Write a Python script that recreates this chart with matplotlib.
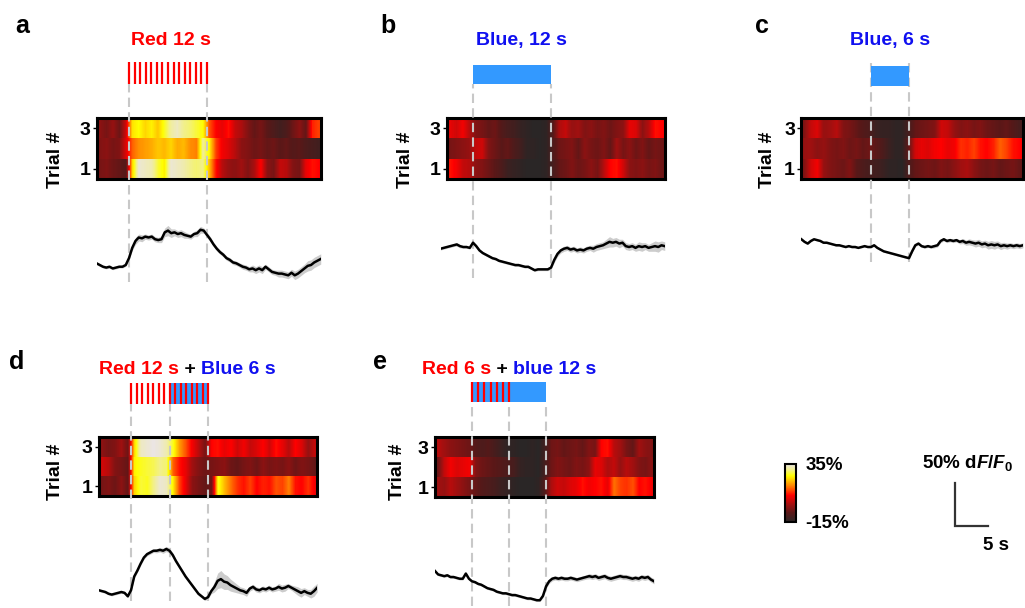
import numpy as np
import matplotlib
matplotlib.use('Agg')
import matplotlib.pyplot as plt
from matplotlib.colors import LinearSegmentedColormap, Normalize
from matplotlib.cm import ScalarMappable

plt.rcParams['font.family'] = ['Liberation Sans', 'DejaVu Sans']
plt.rcParams['font.weight'] = 'bold'
plt.rcParams['mathtext.fontset'] = 'custom'
plt.rcParams['mathtext.rm'] = 'Liberation Sans:bold'
plt.rcParams['mathtext.it'] = 'Liberation Sans:italic:bold'
plt.rcParams['mathtext.bf'] = 'Liberation Sans:bold'

# dF/F (%) per trial, ~1 s bins; rows are trial 1, 2, 3
heat_a = [
    [-4, -3, -5, -6, -8, 22, 34, 33, 32, 27, 24, 34, 33, 32, 30, 29, 30, 20, 9, 2, -1, -2, 0, -3, 1, 8, -2, -4, 3, 2, -3, -4, 6, 9, 8],
    [-3, -2, -4, -3, 5, 14, 17, 18, 19, 21, 20, 22, 19, 20, 17, 16, 31, 24, 12, 7, 5, 2, -2, -3, -5, -4, -6, -5, -7, -6, -8, -7, -9, -10, -11],
    [-2, -4, -1, -5, 4, 23, 25, 22, 24, 21, 26, 31, 33, 30, 29, 27, 25, 13, 8, 6, 9, 3, 1, -3, -6, -4, -7, -9, -11, -9, -5, -2, -6, 10, 12],
]
heat_b = [
    [9, 7, 3, 2, -2, -3, -5, -7, -9, -12, -13, -14, -15, -15, -15, -14, -10, -6, -5, -3, -5, -4, -2, -4, 2, 8, 9, 4, -2, -3, -2, -4, -3, -5],
    [-4, -3, -2, -1, 3, 4, -3, -5, -7, -6, -9, -11, -14, -14, -15, -14, -9, -5, -4, -3, -6, -2, -4, -5, -3, -6, 0, -4, -2, -5, -3, -6, -4, -5],
    [6, 4, 7, 2, -3, -4, -6, -5, -8, -10, -11, -13, -14, -15, -15, -14, -8, 1, 3, -1, 0, -3, -2, -4, -3, -5, -3, -2, 6, 5, -2, 2, 9, 8],
]
heat_c = [
    [-3, 4, 7, -1, -3, -4, -5, -3, -7, -9, -10, -11, -12, -14, -14, -15, -9, -6, -5, -4, -5, -3, -4, -2, 0, 1, -2, -4, -5, -4, -6, -5, -4, -6],
    [-1, 0, -2, -1, -3, -4, -3, -5, -4, -6, -5, -7, -9, -12, -14, -14, -6, 4, 6, 5, 7, 8, 6, 7, 11, 10, 12, 9, 8, 10, 14, 12, 9, 8],
    [-3, 3, 5, -1, 0, 2, -3, -4, -6, -8, -9, -12, -13, -13, -14, -14, -10, -6, -5, -4, -3, 4, 3, -1, -3, -2, -4, -3, -5, -6, -7, -6, -8, -10],
]
heat_d = [
    [-4, -3, -5, -2, -6, 22, 27, 26, 30, 34, 33, 24, 12, 6, -2, -4, -6, -5, 26, 20, 15, 11, 9, 12, 8, 10, 9, 13, 12, 16, 9, 8, 11, 7],
    [4, 2, -3, -4, -6, 24, 26, 27, 28, 30, 29, 14, 9, 6, 0, -3, -5, -4, -3, -2, -5, -6, -4, -3, -5, -2, -4, -3, -4, -2, -5, -3, -4, -6],
    [-2, -4, -3, 0, -5, 22, 33, 34, 35, 34, 32, 26, 18, 13, 7, 2, -4, 8, 9, 6, 8, 4, 7, 3, 5, 8, 4, 9, 6, 2, 8, 5, -1, 3],
]
heat_e = [
    [0, -1, 2, 0, -2, -4, -6, -8, -9, -10, -12, -13, -14, -15, -15, -15, -14, -8, 1, 4, 3, 5, 6, 9, 7, 8, 9, 6, 15, 12, 11, 13, 8, 9, 7],
    [-5, 3, 7, 5, 6, 7, -3, -5, -6, -7, -8, -9, -10, -13, -14, -14, -15, -10, -5, -3, -4, -5, -3, -4, -2, 6, 5, 1, 3, -1, 2, 0, -3, -4, -2],
    [2, 0, -2, -3, -4, -5, -8, -9, -8, -10, -12, -14, -14, -15, -15, -14, -15, -11, -5, -4, -6, -5, -4, -6, -3, -4, 8, 9, 2, 0, -4, -6, 0, -2, -3],
]

# trial-averaged dF/F (%) and SEM, 0.5 s steps
trace_a = [2, 0, -2, -3, -2, -4, -3, -2, -2, 0,
           8, 20, 28, 32, 31, 33, 32, 33, 30, 29,
           30, 38, 40, 37, 38, 36, 37, 35, 34, 33,
           36, 37, 41, 40, 35, 30, 24, 19, 15, 12,
           8, 6, 3, 2, 0, -2, -3, -5, -4, -6,
           -4, -6, -2, -5, -8, -9, -10, -10, -11, -12,
           -9, -12, -10, -7, -4, -1, 0, 3, 5, 7]
sem_a = [1.5, 1.5, 1.5, 1.5, 1.5, 1.5, 1.5, 1.5, 1.5, 1.5,
         2, 3, 4, 4, 4, 3, 3, 3, 3, 3,
         4, 5, 6, 5, 4, 4, 4, 4, 3, 3,
         3, 4, 4, 3, 3, 3, 2.5, 2.5, 2.5, 2.5,
         2.5, 2.5, 2.5, 2.5, 2.5, 3, 3, 3, 4, 4,
         4, 4, 3, 3, 3, 3, 4, 4, 4, 4,
         4, 5, 5, 5, 5, 6, 6, 6, 6, 6]
trace_b = [-2, -1, 0, 1, 2, 3, 1, 0, 0, -1,
           5, 1, -4, -7, -9, -11, -13, -14, -16, -17,
           -18, -19, -20, -21, -21, -22, -23, -23, -25, -27,
           -26, -26, -26, -26, -24, -15, -8, -4, -2, -1,
           -3, -2, -4, -3, -4, -2, -1, -2, 0, 1,
           2, 4, 6, 5, 6, 4, 5, 1, 0, 1,
           -1, 1, 0, 1, -1, 0, 1, 0, 2, 1]
sem_b = [1.5, 1.5, 1.5, 1.5, 1.5, 2, 2, 1.5, 1.5, 1.5,
         2, 2, 1.5, 1.5, 1.5, 1.5, 1.5, 1.5, 1.5, 1.5,
         1.5, 1.5, 1.5, 1.5, 1.5, 1.5, 1.5, 1.5, 1.5, 1.5,
         1.5, 1.5, 1.5, 1.5, 2, 3, 3, 3, 3, 3,
         3, 3, 3, 3, 3, 3, 3, 4, 4, 4,
         4, 5, 6, 5, 5, 5, 4, 4, 4, 4,
         4, 5, 5, 4, 4, 5, 6, 6, 5, 5]
trace_c = [9, 6, 4, 7, 9, 8, 7, 5, 5, 4,
           3, 2, 2, 1, 0, 1, 0, 0, -1, 0,
           1, 0, 0, 2, -1, -3, -5, -6, -7, -8,
           -9, -10, -11, -12, -13, -5, 2, 4, 1, 0,
           1, 0, 1, 2, 7, 9, 7, 8, 7, 8,
           6, 7, 5, 6, 5, 4, 5, 3, 4, 2,
           3, 2, 3, 1, 2, 1, 2, 1, 2, 1,
           2]
sem_c = [1, 1, 1, 1, 1, 1, 1, 1, 1, 1,
         1, 1, 1, 1, 1, 1, 1, 1, 1, 1,
         1, 1, 1, 1, 1, 1, 1, 1, 1, 1,
         1, 1, 1, 1, 1, 1.5, 1.5, 1.5, 1.5, 1.5,
         1.5, 1.5, 2, 2, 2, 2, 2, 2, 2, 2,
         2.5, 3, 3, 3.5, 3.5, 4, 4, 4, 4, 4.5,
         4.5, 4.5, 4, 4, 3.5, 3.5, 3, 3, 3, 3,
         3]
trace_d = [2, 1, 0, -2, -3, -2, -1, 0, -1, -5,
           2, 18, 25, 33, 40, 44, 46, 48, 48, 49,
           48, 50, 48, 43, 36, 30, 24, 18, 13, 8,
           3, -2, -5, -8, -6, 1, 6, 13, 15, 12,
           11, 8, 6, 4, 2, 1, -1, 4, 6, 3,
           2, 4, 3, 5, 3, 4, 6, 4, 5, 7,
           5, 3, 1, -1, 1, -1, -2, 1, 5]
sem_d = [1.5, 1.5, 1.5, 1.5, 1.5, 1.5, 1.5, 1.5, 1.5, 1.5,
         2, 2, 2, 2, 2, 2, 2, 2, 2.5, 2.5,
         3, 3, 3, 2.5, 2.5, 2, 2, 2, 2, 2,
         2, 2, 2, 2, 2, 3, 6, 9, 10, 9,
         8, 7, 6, 5, 4, 4, 4, 3, 3, 3,
         3, 3, 3, 3, 3, 3, 4, 4, 4, 3,
         3, 4, 5, 5, 4, 4, 5, 6, 5]
trace_e = [7, 3, 2, 1, 2, 0, 0, -1, -2, -2,
           4, -2, -5, -6, -8, -9, -11, -13, -14, -15,
           -17, -18, -19, -19, -20, -21, -21, -22, -23, -24,
           -25, -25, -26, -27, -27, -22, -11, -5, -2, -1,
           -2, -1, -2, -2, -1, -2, -3, -2, -1, 0,
           1, 0, 1, -1, 0, 1, -1, -2, -1, 0,
           1, 0, 0, -1, -2, -1, -2, 0, -1, 0,
           -3, -5]
sem_e = [1.5, 1.5, 1.5, 1.5, 1.5, 1.5, 1.5, 1.5, 1.5, 1.5,
         1.5, 1.5, 1.5, 1.5, 1.5, 1.5, 1.5, 1.5, 1.5, 1.5,
         1.5, 1.5, 1.5, 1.5, 1.5, 1.5, 1.5, 1.5, 1.5, 1.5,
         1.5, 1.5, 1.5, 1.5, 1.5, 2, 2.5, 2.5, 2.5, 2.5,
         2.5, 2.5, 2.5, 2.5, 2.5, 2.5, 2.5, 2.5, 2.5, 2.5,
         3, 3, 3, 3, 3, 3, 3, 3, 3, 3,
         3, 3, 3, 3, 3, 3, 3, 3, 3, 3,
         3, 3]

# light pulse trains (s)
pulses_12s = np.linspace(0, 12, 15)
pulses_6s = np.linspace(0, 6, 7)

RED = '#ff0000'
BLUE_TXT = '#1010f0'
BLUE_BAR = '#3399ff'
DASH = '#c8c8c8'

cmap = LinearSegmentedColormap.from_list('heat', [
    (0.0, '#2a2626'), (0.16, '#5a1818'), (0.3, '#a01010'), (0.46, '#ff0000'),
    (0.62, '#ff8000'), (0.8, '#ffff00'), (0.9, '#f2f08a'), (1.0, '#ebe5e3')])
norm = Normalize(-15, 35)
PX_PER_PCT = 0.86

W, H = 1025, 608
fig = plt.figure(figsize=(W / 100, H / 100), dpi=100)


def px_axes(left, top, width, height):
    return fig.add_axes([left / W, 1 - (top + height) / H, width / W, height / H])


def px_text(x, y, s, **kw):
    return fig.text(x / W, 1 - y / H, s, **kw)


panels = [
    dict(letter='a', letter_xy=(15, 33), onset=129, pps=6.5, heat=heat_a, heat_t=(-5, 29.5),
         trace=trace_a, sem=sem_a, trace_t=(-5, 29.5), heat_y=(118, 179), stim_y=(62, 84),
         dash_y=(84, 282), trace_y=(205, 290), zero=265, events=[0, 12], blue=None,
         pulses=pulses_12s, title=[('Red 12 s', RED)], title_xy=(171, 45), title_ha='center',
         trial_xy=(55, 160)),
    dict(letter='b', letter_xy=(380, 33), onset=473, pps=6.5, heat=heat_b, heat_t=(-4, 29.5),
         trace=trace_b, sem=sem_b, trace_t=(-5, 29.5), heat_y=(118, 179), stim_y=(65, 84),
         dash_y=(84, 278), trace_y=(205, 290), zero=247, events=[0, 12], blue=(0, 12),
         pulses=None, title=[('Blue, 12 s', BLUE_TXT)], title_xy=(521, 45), title_ha='center',
         trial_xy=(405, 160)),
    dict(letter='c', letter_xy=(755, 33), onset=871, pps=6.33, heat=heat_c, heat_t=(-11, 24),
         trace=trace_c, sem=sem_c, trace_t=(-11, 24), heat_y=(118, 179), stim_y=(66, 86),
         dash_y=(60, 262), trace_y=(205, 290), zero=247, events=[0, 6], blue=(0, 6),
         pulses=None, title=[('Blue, 6 s', BLUE_TXT)], title_xy=(890, 45), title_ha='center',
         trial_xy=(767, 160)),
    dict(letter='d', letter_xy=(9, 369), onset=131, pps=6.42, heat=heat_d, heat_t=(-5, 29),
         trace=trace_d, sem=sem_d, trace_t=(-5, 29), heat_y=(437, 496), stim_y=(383, 404),
         dash_y=(404, 601), trace_y=(530, 606), zero=592, events=[0, 6, 12], blue=(6, 12),
         pulses=pulses_12s, title=[('Red 12 s', RED), (' + ', 'black'), ('Blue 6 s', BLUE_TXT)],
         title_xy=(99, 374), title_ha='left', trial_xy=(55, 472)),
    dict(letter='e', letter_xy=(373, 369), onset=472, pps=6.17, heat=heat_e, heat_t=(-6, 29.5),
         trace=trace_e, sem=sem_e, trace_t=(-6, 29.5), heat_y=(437, 497), stim_y=(382, 402),
         dash_y=(402, 606), trace_y=(530, 606), zero=577, events=[0, 6, 12], blue=(0, 12),
         pulses=pulses_6s, title=[('Red 6 s', RED), (' + ', 'black'), ('blue 12 s', BLUE_TXT)],
         title_xy=(422, 374), title_ha='left', trial_xy=(398, 472)),
]

for p in panels:
    on, pps = p['onset'], p['pps']
    h0, h1 = p['heat_t']
    left = on + h0 * pps
    width = (h1 - h0) * pps

    # trial-by-trial heat map
    ax = px_axes(left, p['heat_y'][0], width, p['heat_y'][1] - p['heat_y'][0])
    for k, row in enumerate(p['heat'], start=1):
        ax.imshow(np.array(row, dtype=float)[None, :], cmap=cmap, norm=norm, aspect='auto',
                  interpolation='bilinear', extent=(h0, h1, k - 0.5, k + 0.5))
    ax.set_xlim(h0, h1)
    ax.set_ylim(0.5, 3.5)
    ax.set_xticks([])
    ax.set_yticks([1, 3])
    ax.set_yticklabels(['1', '3'], fontsize=14, fontweight='bold')
    ax.tick_params(axis='y', length=3, width=1, pad=1.5)
    for sp in ax.spines.values():
        sp.set_linewidth(2.2)
    px_text(*p['trial_xy'], 'Trial #', rotation=90, ha='center', va='center',
            fontsize=14, fontweight='bold')

    # stimulus on/off markers
    dax = px_axes(left, p['dash_y'][0], width, p['dash_y'][1] - p['dash_y'][0])
    dax.set_xlim(h0, h1)
    dax.set_axis_off()
    for ev in p['events']:
        dax.axvline(ev, color=DASH, lw=1.5, dashes=(4.5, 2.5))

    # light stimulus
    sax = px_axes(left, p['stim_y'][0], width, p['stim_y'][1] - p['stim_y'][0])
    sax.set_xlim(h0, h1)
    sax.set_ylim(0, 1)
    sax.set_axis_off()
    if p['blue'] is not None:
        sax.axvspan(p['blue'][0], p['blue'][1], color=BLUE_BAR, lw=0)
    if p['pulses'] is not None:
        sax.vlines(p['pulses'], 0, 1, color=RED, lw=1.6)

    # mean trace with SEM band
    t0, t1 = p['trace_t']
    m = np.array(p['trace'], dtype=float)
    s = np.array(p['sem'], dtype=float)
    t = np.linspace(t0, t1, len(m))
    top, bot = p['trace_y']
    tax = px_axes(on + t0 * pps, top, (t1 - t0) * pps, bot - top)
    tax.fill_between(t, m - s, m + s, color='#cccccc', lw=0)
    tax.plot(t, m, color='black', lw=1.8)
    tax.set_xlim(t0, t1)
    tax.set_ylim((p['zero'] - bot) / PX_PER_PCT, (p['zero'] - top) / PX_PER_PCT)
    tax.set_axis_off()

    # panel letter and stimulus title
    px_text(*p['letter_xy'], p['letter'], fontsize=18, fontweight='bold', va='baseline')
    pieces = p['title']
    prev = px_text(*p['title_xy'], pieces[0][0], color=pieces[0][1], fontsize=14,
                   fontweight='bold', ha=p['title_ha'], va='baseline')
    for txt, col in pieces[1:]:
        prev = ax.annotate(txt, xy=(1, 0), xycoords=prev, ha='left', va='bottom',
                           color=col, fontsize=14, fontweight='bold', annotation_clip=False)

# colour scale
cax = px_axes(785, 464, 11, 58)
cb = fig.colorbar(ScalarMappable(norm=norm, cmap=cmap), cax=cax, ticks=[-15, 35])
cb.ax.set_yticklabels(['-15%', '35%'], fontsize=13.5, fontweight='bold')
cb.ax.tick_params(length=0, pad=7)
cb.outline.set_linewidth(1.5)

# scale bar: 5 s x 50 % dF/F0
bax = px_axes(955, 483, 5 * 6.5, 50 * PX_PER_PCT)
bax.plot([0, 0, 5], [50, 0, 0], color='#333333', lw=1.6, clip_on=False, solid_joinstyle='miter')
bax.set_xlim(0, 5)
bax.set_ylim(0, 50)
bax.set_axis_off()
px_text(968, 463, r'50% d$\mathit{F}$/$\mathit{F}_0$', ha='center', va='center',
        fontsize=13.5, fontweight='bold')
px_text(996, 545, '5 s', ha='center', va='center', fontsize=13.5, fontweight='bold')

fig.savefig('out.png', dpi=100)
